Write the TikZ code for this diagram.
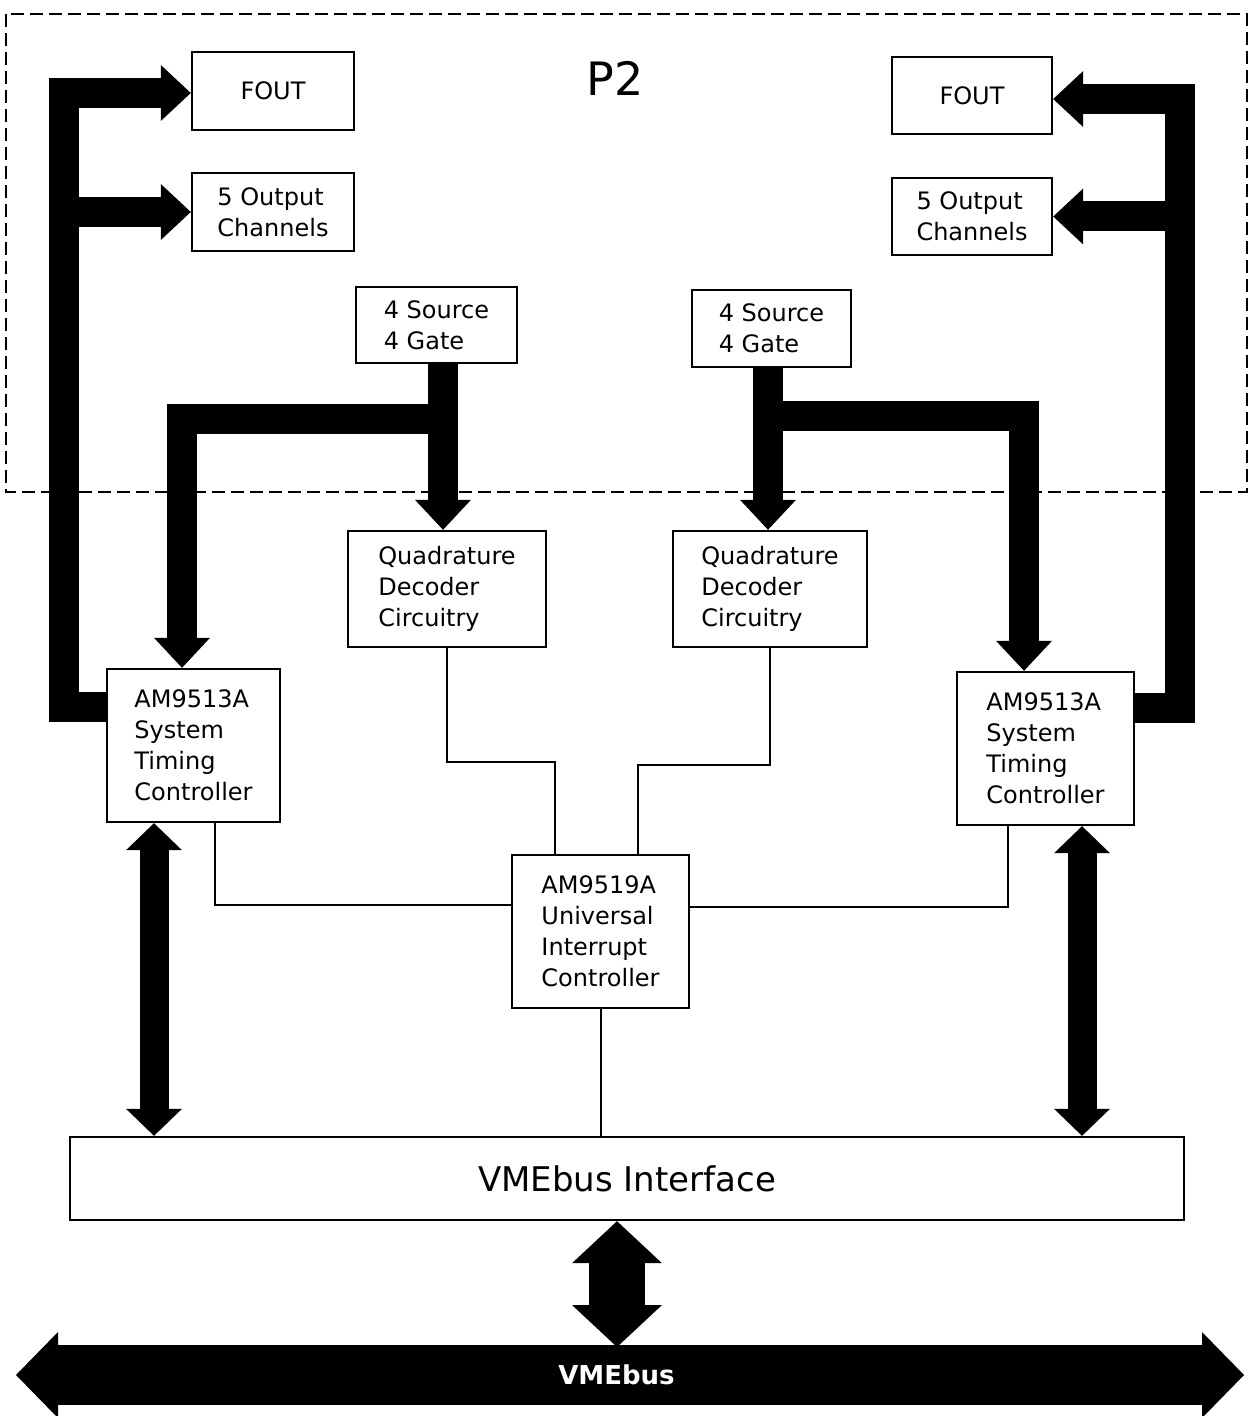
\documentclass[tikz,border=0pt]{standalone}
\usepackage{fontspec}
\setmainfont{DejaVu Sans}
\usetikzlibrary{arrows.meta}

\begin{document}
\begin{tikzpicture}[x=0.5pt,y=-0.5pt,
   box/.style={draw,line width=1.2pt,inner sep=0pt,align=left,font=\fontsize{12pt}{15.5pt}\selectfont},
   bus/.style={line width=15pt,line join=miter,-{Triangle[width=28pt,length=15pt,line width=0pt]}},
   dbus/.style={line width=14.5pt,{Triangle[width=28pt,length=13.5pt,line width=0pt]}-{Triangle[width=28pt,length=13.5pt,line width=0pt]}},
   dbig/.style={line width=28pt,{Triangle[width=45pt,length=21pt,line width=0pt]}-{Triangle[width=45pt,length=21pt,line width=0pt]}},
   vmebar/.style={line width=30pt,{Triangle[width=43pt,length=21pt,line width=0pt]}-{Triangle[width=43pt,length=21pt,line width=0pt]}},
   wire/.style={line width=1pt},
   p2frame/.style={line width=1pt,dash pattern=on 6.5pt off 3pt}]
   \useasboundingbox (0,0) rectangle (1255,1416);
   \draw[p2frame] (6,14) rectangle (1247,492);
   \node[font=\fontsize{23pt}{23pt}\selectfont] (ptwo) at (615,78) {P2};

   \node[box,minimum width=81pt,minimum height=39pt] (lfout) at (273,91) {FOUT};
   \node[box,minimum width=81pt,minimum height=39pt] (lout) at (273,212) {5 Output\\Channels};
   \node[box,minimum width=80pt,minimum height=38.5pt] (rfout) at (972,95.5) {FOUT};
   \node[box,minimum width=80pt,minimum height=38.5pt] (rout) at (972,216.5) {5 Output\\Channels};
   \node[box,minimum width=80.5pt,minimum height=38pt] (lsrc) at (436.5,325) {4 Source\\4 Gate};
   \node[box,minimum width=79.5pt,minimum height=38.5pt] (rsrc) at (771.5,328.5) {4 Source\\4 Gate};
   \node[box,minimum width=99pt,minimum height=58pt] (lqd) at (447,589) {Quadrature\\Decoder\\Circuitry};
   \node[box,minimum width=97pt,minimum height=58pt] (rqd) at (770,589) {Quadrature\\Decoder\\Circuitry};
   \node[box,minimum width=86.5pt,minimum height=76.5pt] (lstc) at (193.5,745.5) {AM9513A\\System\\Timing\\Controller};
   \node[box,minimum width=88.5pt,minimum height=76.5pt] (rstc) at (1045.5,748.5) {AM9513A\\System\\Timing\\Controller};
   \node[box,minimum width=88.5pt,minimum height=76.5pt] (uic) at (600.5,931.5) {AM9519A\\Universal\\Interrupt\\Controller};
   \node[box,minimum width=557pt,minimum height=41.5pt,font=\fontsize{17pt}{17pt}\selectfont] (vif) at (627,1178.5) {VMEbus Interface};

   \coordinate (lbusB) at (64,707);
   \coordinate (lbusT) at (64,93);
   \coordinate (rbusB) at (1180,708);
   \coordinate (rbusT) at (1180,99);
   \draw[bus] (lstc.west |- lbusB) -- (lbusB) -- (lbusT) -- (lfout.west |- lbusT);
   \draw[bus] (lbusB |- lout.west) -- (lout.west);
   \draw[bus] (rstc.east |- rbusB) -- (rbusB) -- (rbusT) -- (rfout.east |- rbusT);
   \draw[bus] (rbusB |- rout.east) -- (rout.east);

   \coordinate (lj) at (443,419);
   \coordinate (lk) at (182,419);
   \coordinate (rj) at (768,416);
   \coordinate (rk) at (1024,416);
   \draw[bus] (lsrc.south -| lj) -- (lqd.north -| lj);
   \draw[bus] (lj) -- (lk) -- (lstc.north -| lk);
   \draw[bus] (rsrc.south -| rj) -- (rqd.north -| rj);
   \draw[bus] (rj) -- (rk) -- (rstc.north -| rk);

   \coordinate (lm) at (555,762);
   \coordinate (rm) at (638,765);
   \coordinate (ln) at (215,905);
   \coordinate (rn) at (1008,907);
   \draw[wire] (lqd.south) |- (lm) -- (uic.north -| lm);
   \draw[wire] (rqd.south) |- (rm) -- (uic.north -| rm);
   \draw[wire] (lstc.south -| ln) -- (ln) -- (uic.west |- ln);
   \draw[wire] (rstc.south -| rn) -- (rn) -- (uic.east |- rn);
   \draw[wire] (uic.south) -- (vif.north -| uic.south);

   \coordinate (ld) at (154,980);
   \coordinate (rd) at (1082,980);
   \draw[dbus] (lstc.south -| ld) -- (vif.north -| ld);
   \draw[dbus] (rstc.south -| rd) -- (vif.north -| rd);

   \coordinate (busL) at (16,1375);
   \coordinate (busR) at (1244,1375);
   \coordinate (busM) at (617,1347);
   \draw[dbig] (vif.south -| busM) -- (busM);
   \draw[vmebar] (busL) -- (busR) node[pos=0.489,text=white,font=\bfseries\fontsize{13pt}{13pt}\selectfont] (vmebus) {VMEbus};
 \end{tikzpicture}
\end{document}
